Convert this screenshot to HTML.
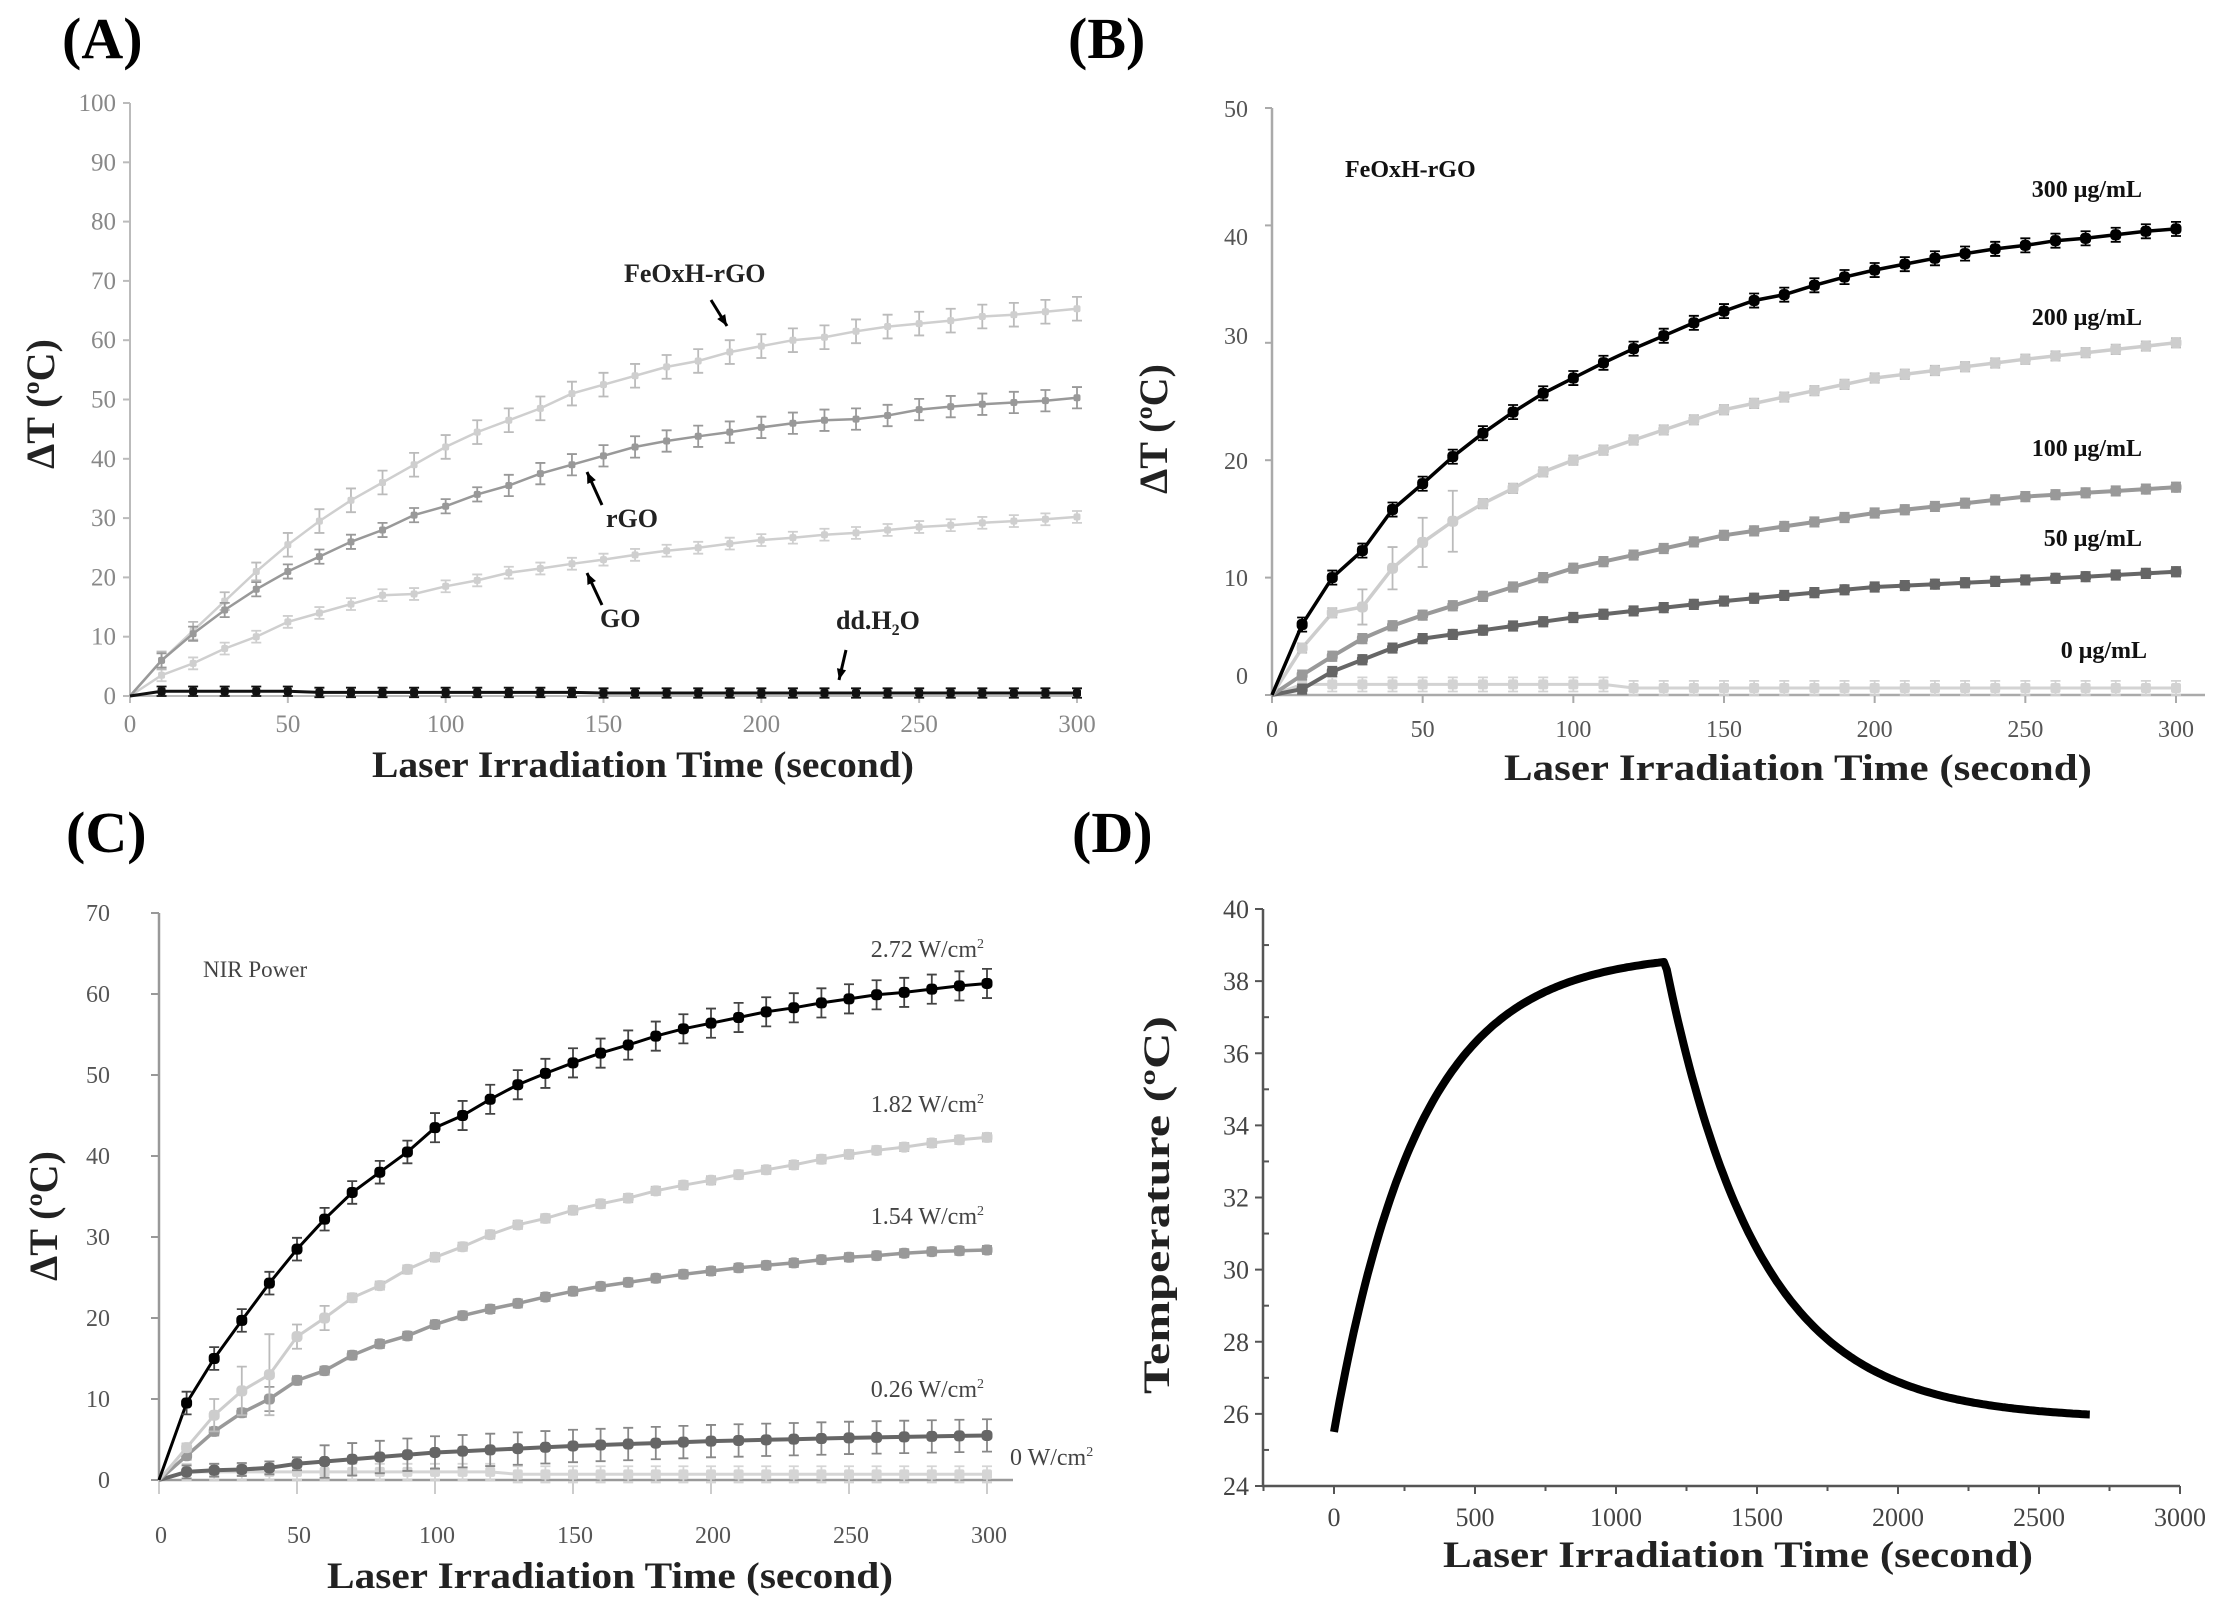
<!DOCTYPE html>
<html><head><meta charset="utf-8"><style>
html,body{margin:0;padding:0;background:#fff;}
svg{display:block;}
svg text{font-family:"Liberation Serif",serif;}
</style></head><body>
<svg id="s" width="2222" height="1615" viewBox="0 0 2222 1615" xmlns="http://www.w3.org/2000/svg" font-family="Liberation Serif, serif">
<g font-weight="bold" font-size="58" fill="#000" font-family="Liberation Serif, serif">
<text x="62" y="58">(A)</text>
<text x="1068" y="58">(B)</text>
<text x="66" y="852">(C)</text>
<text x="1072" y="852">(D)</text>
</g>
</svg>
<script>
const S=document.getElementById('s');const NS='http://www.w3.org/2000/svg';
function el(t,a,txt){const e=document.createElementNS(NS,t);for(const k in a)e.setAttribute(k,a[k]);if(txt!==undefined)e.textContent=txt;S.appendChild(e);return e;}
function txt(x,y,s,o){o=o||{};return el('text',Object.assign({x:x,y:y,'font-family':'Liberation Serif, serif','font-size':o.fs||24,fill:o.fill||'#666','text-anchor':o.anchor||'middle','font-weight':o.fw||'normal'},o.extra||{}),s);}
function interp(pts,t){for(let i=0;i<pts.length-1;i++){if(t<=pts[i+1][0]){const a=pts[i],b=pts[i+1];return a[1]+(b[1]-a[1])*(t-a[0])/(b[0]-a[0]);}}return pts[pts.length-1][1];}
function series(X,Y,vals,o){const ts=[];for(let t=0;t<=300;t+=10)ts.push(t);
 let d='';ts.forEach((t,i)=>{const v=(t==0?0:vals[i-1]);d+=(i?'L':'M')+X(t).toFixed(1)+' '+Y(v).toFixed(1);});
 el('path',{d:d,fill:'none',stroke:o.c,'stroke-width':o.lw||3});
 ts.forEach((t,i)=>{if(t==0)return;const v=vals[i-1];const e=(typeof o.err=='function')?o.err(t):o.err;const x=X(t),y=Y(v);
  if(e>0){const y1=Y(v+e),y2=Y(v-e);el('path',{d:`M${x} ${y1}V${y2}M${x-5} ${y1}h10M${x-5} ${y2}h10`,stroke:o.ec||o.c,'stroke-width':1.8,fill:'none'});}
  const m=o.ms||8;el('rect',{x:x-m/2,y:y-m/2,width:m,height:m,rx:o.rx||2,fill:o.c});});}
function genF(f){const a=[];for(let t=10;t<=300;t+=10)a.push(f(t));return a;}
function fromPts(p){return genF(t=>interp(p,t));}

// ---------- Panel A ----------
(function(){const x0=130,x1=1077,y0=696,y1=103;const X=t=>x0+(x1-x0)*t/300,Y=v=>y0+(y1-y0)*v/100;
 el('path',{d:`M${x0} ${y1}V${y0}H${x1}`,stroke:'#bbb','stroke-width':2,fill:'none'});
 for(let v=0;v<=100;v+=10){el('path',{d:`M${x0-7} ${Y(v)}H${x0}`,stroke:'#bbb','stroke-width':2});txt(x0-14,Y(v)+8,String(v),{anchor:'end',fill:'#888',fs:25});}
 for(let t=0;t<=300;t+=50){el('path',{d:`M${X(t)} ${y0}v7`,stroke:'#bbb','stroke-width':2});txt(X(t),y0+36,String(t),{fill:'#888',fs:25});}
 txt(643,777,'Laser Irradiation Time (second)',{fs:37,fw:'bold',fill:'#222',extra:{textLength:542,lengthAdjust:'spacingAndGlyphs'}});
 txt(0,0,'ΔT (ºC)',{fs:40,fw:'bold',fill:'#222',extra:{transform:'translate(54,404) rotate(-90)'}});
 const fe=[6,11,16,21,25.5,29.5,33,36,39,42,44.5,46.5,48.5,51,52.5,54,55.5,56.5,58,59,60,60.5,61.5,62.3,62.8,63.3,64,64.3,64.8,65.3];
 const rg=[6,10.5,14.5,18,21,23.5,26,28,30.5,32,34,35.5,37.5,39,40.5,42,43,43.8,44.5,45.3,46,46.5,46.7,47.3,48.3,48.8,49.2,49.5,49.8,50.3];
 const go=[3.5,5.5,8,10,12.5,14,15.5,17,17.2,18.5,19.5,20.8,21.5,22.3,23,23.8,24.5,25,25.7,26.3,26.7,27.2,27.5,28,28.5,28.8,29.2,29.5,29.8,30.2];
 const dd=genF(t=>t<60?0.8:(t<150?0.6:0.5));
 series(X,Y,go,{c:'#cfcfcf',err:1,ms:7,lw:2.5});
 series(X,Y,fe,{c:'#cfcfcf',err:t=>t<50?1.5:2,ms:7,lw:2.5,ec:'#bbb'});
 series(X,Y,rg,{c:'#999',err:t=>t<120?1.2:1.8,ms:7,lw:2.5});
 series(X,Y,dd,{c:'#111',err:0.8,ms:8,lw:3});
 const lb={fs:26,fw:'bold',fill:'#222',anchor:'start'};
 txt(624,282,'FeOxH-rGO',lb);txt(606,527,'rGO',lb);txt(600,627,'GO',lb);
 const t=txt(836,629,'dd.H',lb);const ts=document.createElementNS(NS,'tspan');ts.setAttribute('font-size','16');ts.setAttribute('dy','6');ts.textContent='2';t.appendChild(ts);const t2=document.createElementNS(NS,'tspan');t2.setAttribute('dy','-6');t2.textContent='O';t.appendChild(t2);
 function arrow(x1,y1,x2,y2){el('line',{x1:x1,y1:y1,x2:x2,y2:y2,stroke:'#000','stroke-width':3});const a=Math.atan2(y2-y1,x2-x1),L=12;
  el('polygon',{points:`${x2},${y2} ${x2-L*Math.cos(a-0.4)},${y2-L*Math.sin(a-0.4)} ${x2-L*Math.cos(a+0.4)},${y2-L*Math.sin(a+0.4)}`,fill:'#000'});}
 arrow(711,300,727,326);arrow(602,505,587,472);arrow(602,605,587,573);arrow(846,650,839,680);
})();

// ---------- Panel B ----------
(function(){const x0=1272,x1=2176,y0=695,y1=108;const X=t=>x0+(x1-x0)*t/300,Y=v=>y0+(y1-y0)*v/50;
 el('path',{d:`M${x0} ${y1}V${y0}H2205`,stroke:'#aaa','stroke-width':2.5,fill:'none'});
 const lp=[676,578,461,336,237,109];
 for(let i=0;i<=5;i++){const v=i*10;el('path',{d:`M${x0-7} ${Y(v)}H${x0}`,stroke:'#aaa','stroke-width':2});txt(1248,lp[i]+8,String(v),{anchor:'end',fill:'#555',fs:24});}
 for(let t=0;t<=300;t+=50){el('path',{d:`M${X(t)} ${y0}v8`,stroke:'#aaa','stroke-width':2});txt(X(t),737,String(t),{fill:'#555',fs:24});}
 txt(1798,780,'Laser Irradiation Time (second)',{fs:37,fw:'bold',fill:'#222',extra:{textLength:588,lengthAdjust:'spacingAndGlyphs'}});
 txt(0,0,'ΔT (ºC)',{fs:40,fw:'bold',fill:'#222',extra:{transform:'translate(1167,429) rotate(-90)'}});
 const s300=fromPts([[10,6],[20,10],[30,12.3],[40,15.8],[50,18],[60,20.3],[70,22.3],[80,24.1],[90,25.7],[100,27],[110,28.3],[120,29.5],[130,30.6],[140,31.7],[150,32.7],[160,33.6],[170,34.1],[180,34.9],[190,35.6],[200,36.2],[210,36.7],[220,37.2],[230,37.6],[240,38],[250,38.3],[260,38.7],[270,38.9],[280,39.2],[290,39.5],[300,39.7]]);
 const s200=fromPts([[10,4],[20,7],[30,7.5],[40,10.8],[50,13],[60,14.8],[70,16.3],[80,17.6],[90,19],[100,20],[150,24.3],[200,27],[250,28.6],[300,30]]);
 const s100=fromPts([[10,1.7],[20,3.3],[30,4.8],[40,5.9],[50,6.8],[100,10.8],[150,13.6],[200,15.5],[250,16.9],[300,17.7]]);
 const s50=fromPts([[10,0.5],[20,2],[30,3],[40,4],[50,4.8],[100,6.6],[150,8],[200,9.2],[250,9.8],[300,10.5]]);
 const s0=genF(t=>t<120?0.9:0.6);
 series(X,Y,s0,{c:'#d3d3d3',err:0.6,ms:10,lw:3});
 series(X,Y,s50,{c:'#666',err:0.4,ms:11,rx:4,lw:4});
 series(X,Y,s100,{c:'#999',err:0.4,ms:11,rx:4,lw:4});
 series(X,Y,s200,{c:'#cdcdcd',err:t=>t==30?1.5:(t==40?1.8:(t==50?2.1:(t==60?2.6:0.4))),ms:11,rx:4,lw:3.5,ec:'#bbb'});
 series(X,Y,s300,{c:'#000',err:0.6,ms:11,rx:4,lw:3.5});
 const lb={fs:24,fw:'bold',fill:'#111',anchor:'end'};
 txt(1345,177,'FeOxH-rGO',{fs:24,fw:'bold',fill:'#111',anchor:'start'});
 txt(2142,197,'300 μg/mL',lb);txt(2142,325,'200 μg/mL',lb);txt(2142,456,'100 μg/mL',lb);txt(2142,546,'50 μg/mL',lb);txt(2147,658,'0 μg/mL',lb);
})();

// ---------- Panel C ----------
(function(){const x0=159,x1=987,y0=1480,y1=913;const X=t=>x0+(x1-x0)*t/300,Y=v=>y0+(y1-y0)*v/70;
 el('path',{d:`M${x0} ${y1}V${y0}H1013`,stroke:'#999','stroke-width':2.5,fill:'none'});
 for(let v=0;v<=70;v+=10){el('path',{d:`M${x0-8} ${Y(v)}H${x0}`,stroke:'#999','stroke-width':2});txt(110,Y(v)+8,String(v),{anchor:'end',fill:'#555',fs:24});}
 for(let t=0;t<=300;t+=50){el('path',{d:`M${X(t)} ${y0}v14`,stroke:'#ccc','stroke-width':2});txt(X(t)+2,1543,String(t),{fill:'#555',fs:24});}
 txt(610,1588,'Laser Irradiation Time (second)',{fs:37,fw:'bold',fill:'#222',extra:{textLength:566,lengthAdjust:'spacingAndGlyphs'}});
 txt(0,0,'ΔT (ºC)',{fs:40,fw:'bold',fill:'#222',extra:{transform:'translate(57,1216) rotate(-90)'}});
 const a=[9.5,15,19.7,24.3,28.5,32.2,35.5,38,40.5,43.5,45,47,48.8,50.2,51.5,52.7,53.7,54.8,55.7,56.4,57.1,57.8,58.3,58.9,59.4,59.9,60.2,60.6,61,61.3];
 const b=[4,8,11,13,17.7,20,22.5,24,26,27.5,28.8,30.3,31.5,32.3,33.3,34.1,34.8,35.7,36.4,37,37.7,38.3,38.9,39.6,40.2,40.7,41.1,41.6,42,42.3];
 const c=[3,6,8.3,10,12.3,13.5,15.4,16.8,17.8,19.2,20.3,21.1,21.8,22.6,23.3,23.9,24.4,24.9,25.4,25.8,26.2,26.5,26.8,27.2,27.5,27.7,28,28.2,28.3,28.4];
 const d=fromPts([[10,1],[20,1.2],[30,1.3],[40,1.5],[50,2],[100,3.4],[150,4.2],[200,4.8],[250,5.2],[300,5.5]]);
 const e=genF(t=>t<130?1:0.7);
 series(X,Y,e,{c:'#d5d5d5',err:1,ms:10,lw:3});
 series(X,Y,d,{c:'#666',err:t=>t<60?0.8:2,ms:11,rx:4,lw:4,ec:'#888'});
 series(X,Y,c,{c:'#999',err:t=>t==40?1.5:0.5,ms:11,rx:4,lw:3.5});
 series(X,Y,b,{c:'#cdcdcd',err:t=>t==20?2:(t==30?3:(t==40?5:(t==50?1.5:(t==60?1.5:0.5)))),ms:11,rx:4,lw:3,ec:'#bbb'});
 series(X,Y,a,{c:'#000',err:t=>t<100?1.4:1.8,ms:11,rx:4,lw:3,ec:'#444'});
 txt(203,977,'NIR Power',{fs:23,fill:'#444',anchor:'start'});
 function wl(x,y,s,anc){const t=txt(x,y,s+' W/cm',{fs:24,fill:'#444',anchor:anc||'end'});const sp=document.createElementNS(NS,'tspan');sp.setAttribute('font-size','14');sp.setAttribute('dy','-9');sp.textContent='2';t.appendChild(sp);}
 wl(984,957,'2.72');wl(984,1112,'1.82');wl(984,1224,'1.54');wl(984,1397,'0.26');wl(1010,1465,'0','start');
})();

// ---------- Panel D ----------
(function(){const x0=1334,x3=2180,y0=1486,y1=909;const X=t=>x0+(x3-x0)*t/3000,Y=v=>y0+(y1-y0)*(v-24)/16;const xl=1263;
 el('path',{d:`M${xl} ${y1}V${y0}H${x3}`,stroke:'#555','stroke-width':2.5,fill:'none'});
 for(let v=24;v<=40;v+=1){const big=v%2==0;el('path',{d:`M${xl-(big?8:0)} ${Y(v)}H${xl+(big?0:6)}`,stroke:'#555','stroke-width':2});if(big)txt(xl-14,Y(v)+9,String(v),{anchor:'end',fill:'#444',fs:26});}
 for(let t=-250;t<=3000;t+=250){const big=t%500==0;el('path',{d:`M${X(t)} ${y0}v${big?8:5}`,stroke:'#555','stroke-width':2});if(big)txt(X(t),1526,String(t),{fill:'#444',fs:26});}
 txt(1738,1567,'Laser Irradiation Time (second)',{fs:37,fw:'bold',fill:'#222',extra:{textLength:590,lengthAdjust:'spacingAndGlyphs'}});
 txt(0,0,'Temperature (ºC)',{fs:37,fw:'bold',fill:'#222',extra:{transform:'translate(1169,1205) rotate(-90)',textLength:378,lengthAdjust:'spacingAndGlyphs'}});
 let p='';for(let t=0;t<=2680;t+=10){let v;if(t<=1170)v=25.5+13.3*(1-Math.exp(-t/300));else v=25.85+12.85*Math.exp(-(t-1170)/330);p+=(t?'L':'M')+X(t).toFixed(1)+' '+Y(v).toFixed(1);}
 el('path',{d:p,fill:'none',stroke:'#000','stroke-width':8,'stroke-linejoin':'round'});
})();
</script>
</body></html>
